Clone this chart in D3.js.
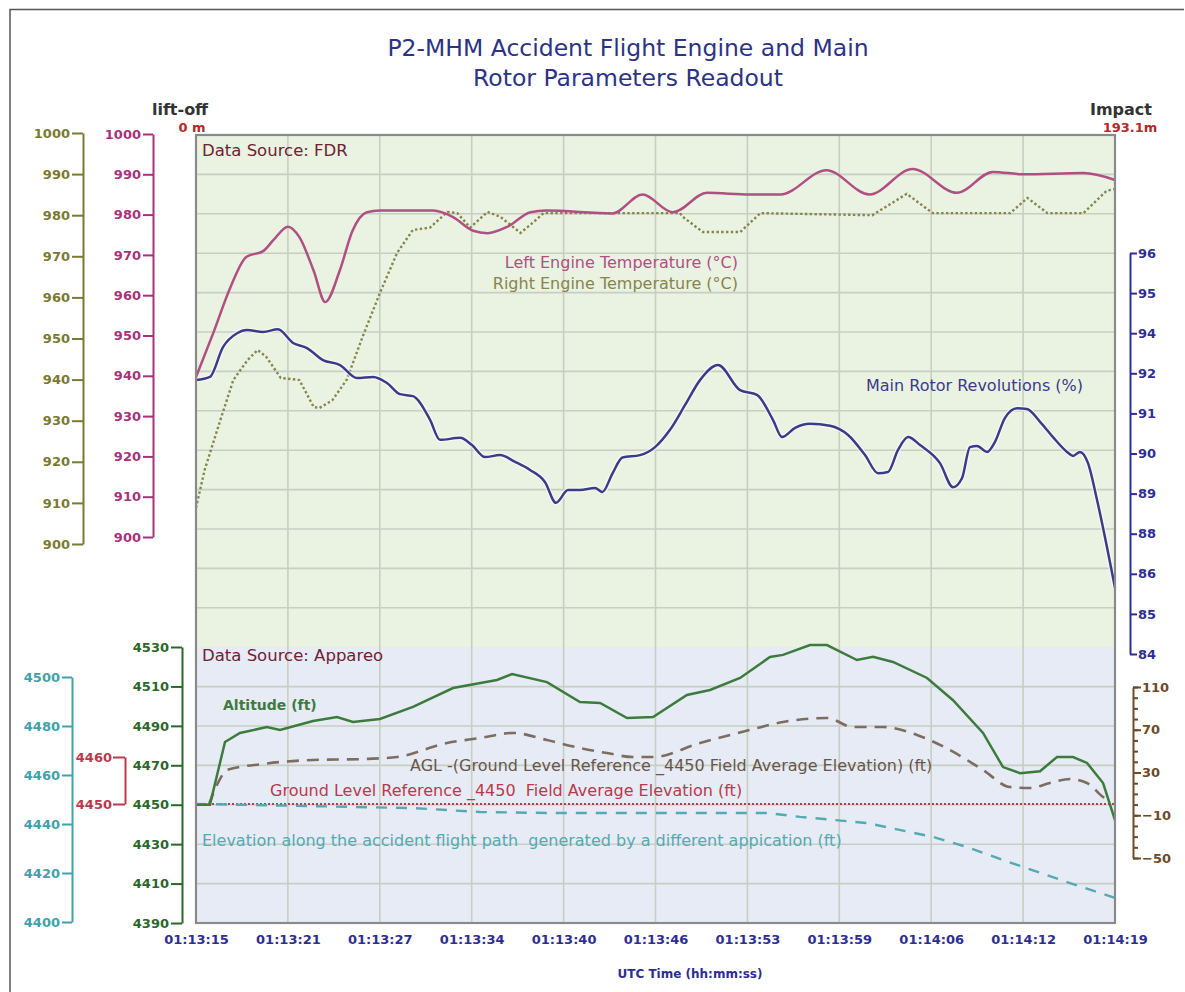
<!DOCTYPE html>
<html>
<head>
<meta charset="utf-8">
<script src="https://cdn.jsdelivr.net/npm/d3@7"></script>
<style>
  body { margin: 0; background: #fff; }
  svg { display: block; }
  text { font-family: "DejaVu Sans", Verdana, sans-serif; white-space: pre; }
</style>
</head>
<body>
<svg id="chart" width="1185" height="992"></svg>
<script>
// ---- Time axis (seconds after lift-off) ----
const timeTickSeconds = [0, 6.4, 12.8, 19.2, 25.6, 32, 38.4, 44.8, 51.2, 57.6, 64];
const timeTickLabels = ["01:13:15", "01:13:21", "01:13:27", "01:13:34", "01:13:40", "01:13:46",
                        "01:13:53", "01:13:59", "01:14:06", "01:14:12", "01:14:19"];

// ---- FDR: left engine temperature (°C) ----
const leftEngineSeconds = [0, 1.2, 2.4, 3.5, 4.7, 5.4, 6.4, 7.2, 8.2, 9.0, 10.0, 10.9, 11.9, 12.8,
  16.5, 17.9, 19.3, 20.3, 21.7, 23.3, 24.4, 29.0, 31.1, 33.2, 35.6, 38.6, 40.7, 43.9, 46.9, 49.9,
  53.0, 55.5, 57.6, 61.8, 64];
const leftEngineTemp = [939.7, 950.6, 962, 969.5, 971, 973.7, 977, 974.4, 966, 958.3, 966, 976, 980.6, 981,
  981, 979.4, 976, 975.4, 977, 980.6, 981, 980.3, 985, 980.6, 985.4, 985, 985, 991, 985, 991.3,
  985.4, 990.6, 990, 990.3, 988.6];

// ---- FDR: right engine temperature (°C) ----
const rightEngineSeconds = [0, 0.6, 1.7, 2.6, 3.6, 4.3, 4.9, 5.9, 7.2, 8.2, 8.6, 9.5, 10.5, 11.6, 12.8,
  14.0, 15.1, 16.3, 17.5, 18.2, 19.1, 20.3, 21.2, 22.6, 23.5, 24.2, 33.7, 33.9, 35.3, 37.9, 39.3,
  47.1, 49.5, 51.3, 56.7, 57.9, 59.3, 61.8, 63.4, 64];
const rightEngineTemp = [908.8, 918, 930.2, 939.9, 944.8, 947.2, 945.5, 940.4, 939.9, 933.3, 933.1, 935, 940, 950.4, 961,
  970.8, 976.4, 977, 980.8, 980.5, 977, 980.8, 979.6, 975.7, 978.3, 980.5, 980.5, 979.6, 975.9, 975.9, 980.5,
  980, 985.2, 980.5, 980.5, 984.2, 980.5, 980.5, 985.9, 986.4];

// ---- FDR: main rotor revolutions (%) ----
const rotorSeconds = [0, 0.97, 1.88, 2.86, 3.55, 4.67, 5.71, 6.76, 7.73, 8.84, 10.03, 11.21, 12.33, 13.3,
  14.21, 15.11, 16.3, 16.99, 18.39, 19.22, 20.13, 21.17, 22.22, 23.26, 24.3, 25.07, 25.91, 26.74, 27.79,
  28.3, 29.0, 29.7, 30.92, 31.97, 33.01, 34.06, 35.1, 36.35, 37.89, 39.07, 40.18, 40.81, 41.72, 42.76, 44.15,
  45.41, 46.59, 47.5, 48.19, 48.89, 49.59, 50.42, 51.81, 52.72, 53.35, 53.9, 54.39, 55.09, 55.64, 56.34,
  57.18, 57.87, 58.78, 59.68, 60.66, 61.08, 61.56, 62.12, 62.75, 63.44, 64];
const rotorPercent = [91.83, 91.91, 93.31, 94.0, 94.08, 94.03, 94.1, 93.51, 93.26, 92.66, 92.41, 91.88, 91.91, 91.76,
  91.48, 91.43, 90.84, 90.34, 90.39, 90.21, 89.91, 89.96, 89.79, 89.59, 89.29, 88.77, 89.09, 89.09, 89.14,
  89.04, 89.5, 89.9, 89.96, 90.16, 90.59, 91.21, 91.83, 92.41, 91.58, 91.46, 90.84, 90.41, 90.64, 90.74, 90.69,
  90.46, 89.96, 89.51, 89.54, 90.09, 90.41, 90.21, 89.76, 89.16, 89.39, 90.16, 90.19, 90.04, 90.29, 90.89,
  91.13, 91.11, 90.79, 90.41, 90.04, 89.94, 90.04, 89.76, 88.84, 87.34, 85.65];

// ---- Appareo: altitude (ft) ----
const altitudeSeconds = [0, 0.97, 2.02, 3.06, 4.94, 5.85, 8.15, 9.82, 10.93, 12.81, 15.11, 17.9, 20.96, 22.01,
  24.44, 26.74, 28.14, 30.02, 31.83, 34.19, 35.8, 37.89, 39.97, 40.88, 42.76, 43.94, 46.03, 47.15, 48.54,
  50.91, 52.72, 54.81, 56.2, 57.39, 58.78, 59.96, 61.08, 62.05, 63.17, 64];
const altitudeFt = [4450, 4450, 4481.8, 4486.4, 4489.4, 4487.9, 4492.5, 4494.5, 4492, 4493.5, 4499.6, 4509.2, 4513.3, 4516.3,
  4512.2, 4502.1, 4501.6, 4494, 4494.5, 4505.7, 4508.2, 4514.3, 4524.9, 4526, 4531, 4531, 4523.4, 4525, 4522.4,
  4514.3, 4503, 4486.4, 4469.1, 4466, 4467, 4474.2, 4474.2, 4471.2, 4461, 4442.2];

// ---- Appareo: height above the 4450 ft ground reference (ft) ----
const aglSeconds = [0.9, 1.53, 2.16, 4.67, 8.15, 11.63, 14.0, 17.48, 19.78, 22.08, 24.44, 26.74, 28.62, 30.43,
  31.83, 35.1, 38.58, 40.88, 43.94, 45.75, 47.84, 50.21, 52.51, 54.81, 56.69, 58.08, 59.47, 60.87, 62.05,
  63.17, 63.66];
const aglFt = [0, 20.2, 32.3, 38, 41.7, 42.6, 44.5, 57.6, 62.3, 67, 60.4, 52.9, 48.2, 44.5,
  44.5, 57.6, 69.8, 77.3, 81, 72.6, 72.6, 65.1, 51, 32.3, 16.4, 15.5, 20.2, 23.9, 20.2,
  7.1, 3];

// ---- Ground level reference (ft) ----
const groundRefFt = 4450;

// ---- Terrain elevation along the flight path (ft) ----
const elevationSeconds = [0, 15.11, 19.78, 24.44, 39.77, 42.06, 46.73, 51.33, 53.69, 57.18, 60.66, 64];
const elevationFt = [4448.2, 4446.5, 4444.9, 4444.5, 4444.5, 4442.9, 4440.4, 4434.7, 4430.6, 4423.3, 4416.3, 4409.8];

// ---- Axis tick values ----
const tempTicks = [900, 910, 920, 930, 940, 950, 960, 970, 980, 990, 1000];
const rotorTicks = [84, 85, 86, 88, 89, 90, 91, 92, 94, 95, 96];
const altitudeTicks = [4390, 4410, 4430, 4450, 4470, 4490, 4510, 4530];
const elevationTicks = [4400, 4420, 4440, 4460, 4480, 4500];
const groundTicks = [4450, 4460];
const aglTicks = [-50, -10, 30, 70, 110];
const aglMinorTicks = [-50, -40, -30, -20, -10, 0, 10, 20, 30, 40, 50, 60, 70, 80, 90, 100, 110];

// ---- Colours ----
const C = {
  title: "#2c3384",
  pink: "#b04f82", pinkAxis: "#a8327a",
  olive: "#85854c", oliveAxis: "#7a7a32",
  navy: "#3b3b8a", navyAxis: "#2e2e92",
  green: "#3d7b3d", greenAxis: "#2b662b",
  brown: "#7d6d60", brownAxis: "#6d4a28",
  cyan: "#55a9b0", cyanAxis: "#3fa2ab",
  red: "#b83a4c",
  source: "#6e2232",
  grid: "#c8cec2",
  topBg: "#eaf2e2", bottomBg: "#e7ebf6",
  frame: "#8a8a8a"
};

const svg = d3.select("#chart");

// plot frame geometry
const L = 196, R = 1115, T = 135, B = 923, SPLIT = 647;

const x = d3.scaleLinear().domain([0, 64]).range([L, R]);
const yLeftTemp = d3.scaleLinear().domain([900, 1000]).range([537, 134]);
const yRightTemp = d3.scaleLinear().domain([900, 1000]).range([544, 133]);
const rotorSlot = d3.scaleLinear().domain([0, rotorTicks.length - 1]).range([654, 253]);
const yRotor = d3.scaleLinear().domain(rotorTicks).range(rotorTicks.map((d, i) => rotorSlot(i)));
const yAlt = d3.scaleLinear().domain([4390, 4530]).range([B, SPLIT]);
const yElev = d3.scaleLinear().domain([4400, 4500]).range([922, 677]);
const yGround = d3.scaleLinear().domain([4450, 4460]).range([804, 757]);
const yAgl = d3.scaleLinear().domain([-50, 110]).range([858, 687]);
const gridRow = d3.scaleLinear().domain([0, 20]).range([T, B]);

// outer border
svg.append("path").attr("d", `M10,992 V9.5 H1184`).attr("fill", "none")
  .attr("stroke", "#555").attr("stroke-width", 1.5);

// title
const title = svg.append("text").attr("x", 628).attr("text-anchor", "middle")
  .attr("fill", C.title).style("font-size", "23.5px");
title.append("tspan").attr("x", 628).attr("y", 56).text("P2-MHM Accident Flight Engine and Main");
title.append("tspan").attr("x", 628).attr("y", 86).text("Rotor Parameters Readout");

// panel backgrounds
svg.append("rect").attr("x", L).attr("y", T).attr("width", R - L).attr("height", SPLIT - T).attr("fill", C.topBg);
svg.append("rect").attr("x", L).attr("y", SPLIT).attr("width", R - L).attr("height", B - SPLIT).attr("fill", C.bottomBg);

// grid
const grid = svg.append("g").attr("stroke", C.grid).attr("stroke-width", 1.6);
grid.selectAll("line.h").data(d3.range(1, 20).filter(i => i !== 13)).join("line")
  .attr("x1", L).attr("x2", R).attr("y1", d => gridRow(d)).attr("y2", d => gridRow(d));
grid.selectAll("line.v").data(timeTickSeconds.slice(1, -1)).join("line")
  .attr("x1", d => x(d)).attr("x2", d => x(d)).attr("y1", T).attr("y2", B);

// panel source labels
svg.append("text").attr("x", 202).attr("y", 156).attr("fill", C.source).style("font-size", "16.5px").text("Data Source: FDR");
svg.append("text").attr("x", 202).attr("y", 661).attr("fill", C.source).style("font-size", "16.5px").text("Data Source: Appareo");

// series helper
function series(secs, vals, yScale, curve) {
  return d3.line().x((d, i) => x(secs[i])).y(d => yScale(d)).curve(curve || d3.curveLinear)(vals);
}

// ---- top panel lines ----
svg.append("path").attr("d", series(rightEngineSeconds, rightEngineTemp, yRightTemp))
  .attr("fill", "none").attr("stroke", C.olive).attr("stroke-width", 2.4).attr("stroke-dasharray", "2.4,2.4");
svg.append("path").attr("d", series(leftEngineSeconds, leftEngineTemp, yLeftTemp, d3.curveMonotoneX))
  .attr("fill", "none").attr("stroke", C.pink).attr("stroke-width", 2.5);
svg.append("path").attr("d", series(rotorSeconds, rotorPercent, yRotor, d3.curveMonotoneX))
  .attr("fill", "none").attr("stroke", "#fff").attr("stroke-opacity", 0.6).attr("stroke-width", 5);
svg.append("path").attr("d", series(rotorSeconds, rotorPercent, yRotor, d3.curveMonotoneX))
  .attr("fill", "none").attr("stroke", C.navy).attr("stroke-width", 2.5);

// ---- bottom panel lines ----
svg.append("line").attr("x1", L).attr("x2", R)
  .attr("y1", yGround(groundRefFt)).attr("y2", yGround(groundRefFt))
  .attr("stroke", C.red).attr("stroke-width", 2).attr("stroke-dasharray", "2,2");
svg.append("path").attr("d", series(elevationSeconds, elevationFt, yElev))
  .attr("fill", "none").attr("stroke", C.cyan).attr("stroke-width", 2.4).attr("stroke-dasharray", "11,9");
svg.append("path").attr("d", series(aglSeconds, aglFt, yAgl, d3.curveMonotoneX))
  .attr("fill", "none").attr("stroke", C.brown).attr("stroke-width", 2.6).attr("stroke-dasharray", "12,8");
svg.append("path").attr("d", series(altitudeSeconds, altitudeFt, yAlt))
  .attr("fill", "none").attr("stroke", C.green).attr("stroke-width", 2.5);

// plot frame
svg.append("rect").attr("x", L).attr("y", T).attr("width", R - L).attr("height", B - T)
  .attr("fill", "none").attr("stroke", C.frame).attr("stroke-width", 2.2);

// ---- series labels ----
function label(xp, yp, txt, color, opts) {
  const t = svg.append("text").attr("x", xp).attr("y", yp).attr("fill", color)
    .style("font-size", (opts && opts.size) || "16px").text(txt);
  if (opts && opts.bold) t.style("font-weight", "bold");
  if (opts && opts.anchor) t.attr("text-anchor", opts.anchor);
  return t;
}
label(738, 268, "Left Engine Temperature (°C)", C.pink, { anchor: "end" });
label(738, 289, "Right Engine Temperature (°C)", C.olive, { anchor: "end" });
label(1083, 391, "Main Rotor Revolutions (%)", C.navy, { anchor: "end" });
label(223, 710, "Altitude (ft)", C.green, { bold: true, size: "14px" });
label(410, 771, "AGL -(Ground Level Reference _4450 Field Average Elevation) (ft)", "#66574a");
label(270, 796, "Ground Level Reference _4450  Field Average Elevation (ft)", C.red);
label(202, 846, "Elevation along the accident flight path  generated by a different appication (ft)", C.cyan);

// ---- axes ----
function styleAxis(g, color, width) {
  g.selectAll(".domain").attr("stroke", color).attr("stroke-width", width || 2);
  g.selectAll(".tick line").attr("stroke", color).attr("stroke-width", width || 2);
  g.selectAll(".tick text").attr("fill", color).style("font-family", "'DejaVu Sans', sans-serif")
    .style("font-size", "13px").style("font-weight", "bold");
}

const axOlive = svg.append("g").attr("transform", "translate(83,0)")
  .call(d3.axisLeft(yRightTemp).tickValues(tempTicks).tickSize(11).tickSizeOuter(0).tickPadding(2).tickFormat(d3.format("d")));
styleAxis(axOlive, C.oliveAxis);

const axPink = svg.append("g").attr("transform", "translate(153,0)")
  .call(d3.axisLeft(yLeftTemp).tickValues(tempTicks).tickSize(10).tickSizeOuter(0).tickPadding(2).tickFormat(d3.format("d")));
styleAxis(axPink, C.pinkAxis);

const axRotor = svg.append("g").attr("transform", "translate(1130,0)")
  .call(d3.axisRight(yRotor).tickValues(rotorTicks).tickSize(7).tickSizeOuter(0).tickPadding(1).tickFormat(d3.format("d")));
styleAxis(axRotor, C.navyAxis);

const axElev = svg.append("g").attr("transform", "translate(72,0)")
  .call(d3.axisLeft(yElev).tickValues(elevationTicks).tickSize(10).tickSizeOuter(0).tickPadding(2).tickFormat(d3.format("d")));
styleAxis(axElev, C.cyanAxis);

const axGround = svg.append("g").attr("transform", "translate(125,0)")
  .call(d3.axisLeft(yGround).tickValues(groundTicks).tickSize(12).tickSizeOuter(0).tickPadding(1).tickFormat(d3.format("d")));
styleAxis(axGround, C.red);

const axAlt = svg.append("g").attr("transform", "translate(182,0)")
  .call(d3.axisLeft(yAlt).tickValues(altitudeTicks).tickSize(11).tickSizeOuter(0).tickPadding(2).tickFormat(d3.format("d")));
styleAxis(axAlt, C.greenAxis);

const axAglMinor = svg.append("g").attr("transform", "translate(1133,0)")
  .call(d3.axisRight(yAgl).tickValues(aglMinorTicks).tickSize(5).tickSizeOuter(0).tickFormat(""));
styleAxis(axAglMinor, C.brownAxis);
const axAgl = svg.append("g").attr("transform", "translate(1133,0)")
  .call(d3.axisRight(yAgl).tickValues(aglTicks).tickSize(8).tickSizeOuter(0).tickPadding(1).tickFormat(d3.format("d")));
styleAxis(axAgl, C.brownAxis);
axAgl.select(".domain").remove();

const axTime = svg.append("g").attr("transform", `translate(0,${B})`)
  .call(d3.axisBottom(x).tickValues(timeTickSeconds).tickSize(0).tickPadding(12)
    .tickFormat((d, i) => timeTickLabels[i]));
axTime.select(".domain").remove();
axTime.selectAll(".tick text").attr("fill", C.navyAxis).style("font-size", "13px").style("font-weight", "bold");

svg.append("text").attr("x", 690).attr("y", 978).attr("text-anchor", "middle").attr("fill", C.navyAxis)
  .style("font-size", "12px").style("font-weight", "bold").text("UTC Time (hh:mm:ss)");

// ---- lift-off / impact markers ----
svg.append("text").attr("x", 180).attr("y", 115).attr("text-anchor", "middle").attr("fill", "#333")
  .style("font-size", "16px").style("font-weight", "bold").text("lift-off");
svg.append("text").attr("x", 192).attr("y", 132).attr("text-anchor", "middle").attr("fill", "#b22a2a")
  .style("font-size", "13px").style("font-weight", "bold").text("0 m");
svg.append("text").attr("x", 1121).attr("y", 115).attr("text-anchor", "middle").attr("fill", "#333")
  .style("font-size", "16px").style("font-weight", "bold").text("Impact");
svg.append("text").attr("x", 1130).attr("y", 132).attr("text-anchor", "middle").attr("fill", "#b22a2a")
  .style("font-size", "13px").style("font-weight", "bold").text("193.1m");
</script>
</body>
</html>
